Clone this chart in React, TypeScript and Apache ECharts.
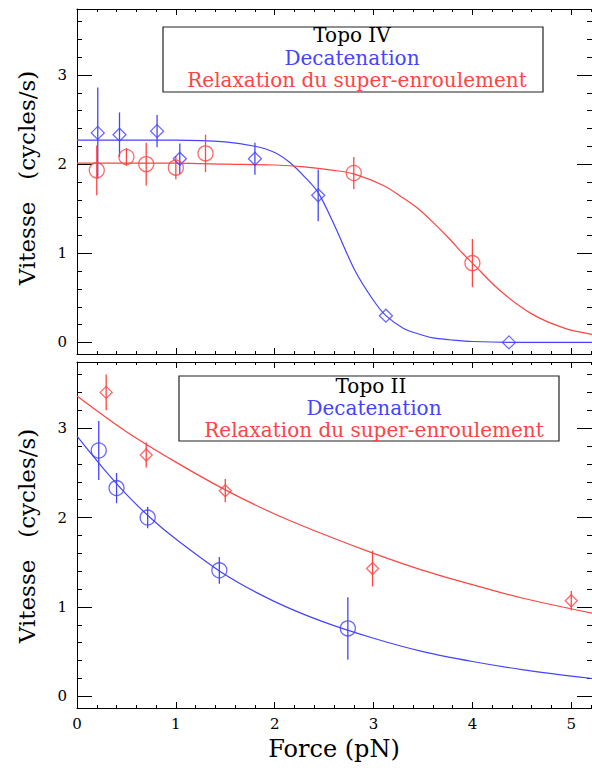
import React, { useEffect, useRef } from "react";
import * as echarts from "echarts";

const FONT = "DejaVu Serif";
const BLUE = "#4444ff";
const RED = "#ff4444";

const X_MIN = 0;
const X_MAX = 5.21;
const Y_MIN = -0.13;
const Y_MAX = 3.74;
const X_MAJOR = [0, 1, 2, 3, 4, 5];
const X_MINOR = [0.2, 0.4, 0.6, 0.8, 1.2, 1.4, 1.6, 1.8, 2.2, 2.4, 2.6, 2.8, 3.2, 3.4, 3.6, 3.8, 4.2, 4.4, 4.6, 4.8, 5.2];
const Y_MAJOR = [0, 1, 2, 3];
const Y_MINOR = [0.2, 0.4, 0.6, 0.8, 1.2, 1.4, 1.6, 1.8, 2.2, 2.4, 2.6, 2.8, 3.2, 3.4, 3.6];

// ---- Topo IV (top panel) ----
const topoIVDecatX = [0.21, 0.43, 0.81, 1.04, 1.8, 2.44, 3.125, 4.37];
const topoIVDecatY = [2.35, 2.33, 2.37, 2.06, 2.06, 1.65, 0.3, 0.0];
const topoIVDecatErr = [0.51, 0.25, 0.18, 0.17, 0.18, 0.29, 0, 0];
const topoIVRelaxX = [0.2, 0.5, 0.7, 1.0, 1.3, 2.8, 4.0];
const topoIVRelaxY = [1.93, 2.08, 2.0, 1.96, 2.12, 1.9, 0.89];
const topoIVRelaxErr = [0.28, 0.1, 0.24, 0.13, 0.21, 0.18, 0.27];
const topoIVDecatFitX = [0, 0.5, 1.0, 1.5, 1.8, 2.0, 2.15, 2.3, 2.44, 2.61, 2.81, 3.0, 3.125, 3.3, 3.44, 3.6, 3.77, 4.0, 4.5, 5.0, 5.21];
const topoIVDecatFitY = [2.27, 2.27, 2.27, 2.25, 2.2, 2.13, 2.02, 1.86, 1.68, 1.3, 0.81, 0.47, 0.3, 0.16, 0.1, 0.05, 0.03, 0.01, 0.0, 0.0, 0.0];
const topoIVRelaxFitX = [0, 0.5, 1.0, 1.5, 2.0, 2.3, 2.6, 2.8, 3.1, 3.3, 3.44, 3.6, 3.77, 3.9, 4.0, 4.27, 4.6, 4.93, 5.21];
const topoIVRelaxFitY = [2.01, 2.01, 2.01, 2.0, 1.99, 1.97, 1.93, 1.89, 1.76, 1.62, 1.51, 1.35, 1.16, 1.0, 0.89, 0.59, 0.32, 0.16, 0.09];

// ---- Topo II (bottom panel) ----
const topoIIDecatX = [0.22, 0.4, 0.715, 1.44, 2.74];
const topoIIDecatY = [2.75, 2.33, 2.0, 1.41, 0.76];
const topoIIDecatErr = [0.33, 0.17, 0.12, 0.15, 0.35];
const topoIIRelaxX = [0.295, 0.7, 1.5, 2.99, 5.0];
const topoIIRelaxY = [3.4, 2.7, 2.3, 1.43, 1.07];
const topoIIRelaxErr = [0.2, 0.14, 0.13, 0.2, 0.11];
const topoIIDecatFitX = [0, 0.25, 0.5, 0.75, 1.0, 1.5, 2.0, 2.5, 3.0, 3.5, 4.0, 4.5, 5.21];
const topoIIDecatFitY = [2.91, 2.57, 2.26, 1.99, 1.76, 1.36, 1.06, 0.83, 0.65, 0.5, 0.39, 0.3, 0.2];
const topoIIRelaxFitX = [0, 0.5, 1.0, 1.5, 2.0, 2.5, 3.0, 3.5, 4.0, 4.5, 5.21];
const topoIIRelaxFitY = [3.36, 2.96, 2.62, 2.31, 2.04, 1.81, 1.6, 1.41, 1.25, 1.1, 0.93];

const LEGEND_TITLES = ["Topo IV", "Topo II"];
const LEGEND_DECAT = "Decatenation";
const LEGEND_RELAX = "Relaxation du super-enroulement";
const Y_LABEL = "Vitesse   (cycles/s)";
const X_LABEL = "Force (pN)";

const GRIDS = [
  { left: 77, top: 9, width: 525, height: 345 },
  { left: 77, top: 362, width: 525, height: 346 },
];

function pairs(xs: number[], ys: number[]) {
  return xs.map((x, i) => [x, ys[i]]);
}
function triples(xs: number[], ys: number[], es: number[]) {
  return xs.map((x, i) => [x, ys[i], es[i]]);
}

function axesFor(g: number, showXLabels: boolean) {
  const line = { show: true, onZero: false, lineStyle: { color: "#000", width: 1 } };
  const noLine = { show: false, onZero: false };
  const tickStyle = { color: "#000", width: 1 };
  const label = { fontSize: 15, fontFamily: FONT, color: "#000" };
  const xBase = { type: "value", gridIndex: g, min: X_MIN, max: X_MAX, splitLine: { show: false } };
  const yBase = { type: "value", gridIndex: g, min: Y_MIN, max: Y_MAX, splitLine: { show: false } };
  const x = [
    { ...xBase, position: "bottom", axisLine: line, axisTick: { show: true, inside: true, length: 6, customValues: X_MAJOR, lineStyle: tickStyle }, axisLabel: { show: showXLabels, customValues: X_MAJOR, margin: 8, ...label } },
    { ...xBase, position: "bottom", axisLine: noLine, axisTick: { show: true, inside: true, length: 3, customValues: X_MINOR, lineStyle: tickStyle }, axisLabel: { show: false } },
    { ...xBase, position: "top", axisLine: line, axisTick: { show: true, inside: true, length: 6, customValues: X_MAJOR, lineStyle: tickStyle }, axisLabel: { show: false } },
    { ...xBase, position: "top", axisLine: noLine, axisTick: { show: true, inside: true, length: 3, customValues: X_MINOR, lineStyle: tickStyle }, axisLabel: { show: false } },
  ];
  const y = [
    { ...yBase, position: "left", axisLine: line, axisTick: { show: true, inside: true, length: 15, customValues: Y_MAJOR, lineStyle: tickStyle }, axisLabel: { show: true, customValues: Y_MAJOR, margin: 10, ...label } },
    { ...yBase, position: "left", axisLine: noLine, axisTick: { show: true, inside: true, length: 5, customValues: Y_MINOR, lineStyle: tickStyle }, axisLabel: { show: false } },
    { ...yBase, position: "right", axisLine: line, axisTick: { show: true, inside: true, length: 15, customValues: Y_MAJOR, lineStyle: tickStyle }, axisLabel: { show: false } },
    { ...yBase, position: "right", axisLine: noLine, axisTick: { show: true, inside: true, length: 5, customValues: Y_MINOR, lineStyle: tickStyle }, axisLabel: { show: false } },
  ];
  return { x, y };
}

function fitSeries(g: number, name: string, xs: number[], ys: number[], color: string) {
  return {
    type: "line", name, xAxisIndex: g * 4, yAxisIndex: g * 4, data: pairs(xs, ys),
    smooth: 0.3, showSymbol: false, symbol: "none",
    lineStyle: { color, width: 1.2 }, z: 2, silent: true,
  };
}
function errSeries(g: number, name: string, xs: number[], ys: number[], es: number[], color: string) {
  return {
    type: "custom", name, xAxisIndex: g * 4, yAxisIndex: g * 4, data: triples(xs, ys, es),
    encode: { x: 0, y: 1 }, z: 3, silent: true,
    renderItem: (_p: any, api: any) => {
      const x = api.value(0), y = api.value(1), e = api.value(2);
      if (!e) return { type: "group", children: [] };
      const a = api.coord([x, y - e]);
      const b = api.coord([x, y + e]);
      return { type: "line", shape: { x1: a[0], y1: a[1], x2: b[0], y2: b[1] }, style: { stroke: color, lineWidth: 1.3 } };
    },
  };
}
function markSeries(g: number, name: string, xs: number[], ys: number[], color: string, symbol: string, size: number) {
  return {
    type: "scatter", name, xAxisIndex: g * 4, yAxisIndex: g * 4, data: pairs(xs, ys),
    symbol, symbolSize: size, z: 4,
    itemStyle: { color: "rgba(0,0,0,0)", borderColor: color, borderWidth: 1.3 },
  };
}

function legendBox(rect: { x: number; y: number; w: number; h: number }, title: string, lines: { cx: number; cy: number }[]) {
  const t = (text: string, fill: string, cx: number, cy: number) => ({
    type: "text", x: cx, y: cy, z: 20,
    style: { text, fill, fontSize: 20, fontFamily: FONT, textAlign: "center", textVerticalAlign: "middle" },
  });
  return [
    { type: "rect", shape: { x: rect.x, y: rect.y, width: rect.w, height: rect.h }, style: { fill: "#fff", stroke: "#222", lineWidth: 1.2 }, z: 19 },
    t(title, "#000", lines[0].cx, lines[0].cy),
    t(LEGEND_DECAT, BLUE, lines[1].cx, lines[1].cy),
    t(LEGEND_RELAX, RED, lines[2].cx, lines[2].cy),
  ];
}

export default function App() {
  const ref = useRef<HTMLDivElement>(null);
  useEffect(() => {
    if (!ref.current) return;
    const chart = echarts.init(ref.current, undefined, { renderer: "svg" });
    const a0 = axesFor(0, false);
    const a1 = axesFor(1, true);
    const option: any = {
      animation: false,
      backgroundColor: "#fff",
      grid: GRIDS.map((g) => ({ ...g, containLabel: false })),
      xAxis: [...a0.x, ...a1.x],
      yAxis: [...a0.y, ...a1.y],
      series: [
        fitSeries(0, "Decatenation fit", topoIVDecatFitX, topoIVDecatFitY, BLUE),
        fitSeries(0, "Relaxation fit", topoIVRelaxFitX, topoIVRelaxFitY, RED),
        errSeries(0, "Decatenation err", topoIVDecatX, topoIVDecatY, topoIVDecatErr, BLUE),
        errSeries(0, "Relaxation err", topoIVRelaxX, topoIVRelaxY, topoIVRelaxErr, RED),
        markSeries(0, "Decatenation", topoIVDecatX, topoIVDecatY, BLUE, "diamond", 13),
        markSeries(0, "Relaxation", topoIVRelaxX, topoIVRelaxY, RED, "circle", 15),
        fitSeries(1, "Decatenation fit II", topoIIDecatFitX, topoIIDecatFitY, BLUE),
        fitSeries(1, "Relaxation fit II", topoIIRelaxFitX, topoIIRelaxFitY, RED),
        errSeries(1, "Decatenation err II", topoIIDecatX, topoIIDecatY, topoIIDecatErr, BLUE),
        errSeries(1, "Relaxation err II", topoIIRelaxX, topoIIRelaxY, topoIIRelaxErr, RED),
        markSeries(1, "Decatenation II", topoIIDecatX, topoIIDecatY, BLUE, "circle", 15),
        markSeries(1, "Relaxation II", topoIIRelaxX, topoIIRelaxY, RED, "diamond", 12),
      ],
      graphic: [
        ...legendBox({ x: 163, y: 27, w: 380, h: 65 }, LEGEND_TITLES[0], [
          { cx: 352, cy: 35 }, { cx: 352, cy: 58 }, { cx: 357, cy: 80 },
        ]),
        ...legendBox({ x: 179, y: 376, w: 380, h: 65 }, LEGEND_TITLES[1], [
          { cx: 371, cy: 386 }, { cx: 374, cy: 408 }, { cx: 374, cy: 430 },
        ]),
        { type: "text", x: 27, y: 178, rotation: Math.PI / 2, style: { text: Y_LABEL, fill: "#000", fontSize: 23, fontFamily: FONT, textAlign: "center", textVerticalAlign: "middle" } },
        { type: "text", x: 27, y: 536, rotation: Math.PI / 2, style: { text: Y_LABEL, fill: "#000", fontSize: 23, fontFamily: FONT, textAlign: "center", textVerticalAlign: "middle" } },
        { type: "text", x: 334, y: 749, style: { text: X_LABEL, fill: "#000", fontSize: 24, fontFamily: FONT, textAlign: "center", textVerticalAlign: "middle" } },
      ],
    };
    chart.setOption(option);
    return () => chart.dispose();
  }, []);
  return <div ref={ref} style={{ position: "fixed", left: 0, top: 0, width: 592, height: 768 }} />;
}
